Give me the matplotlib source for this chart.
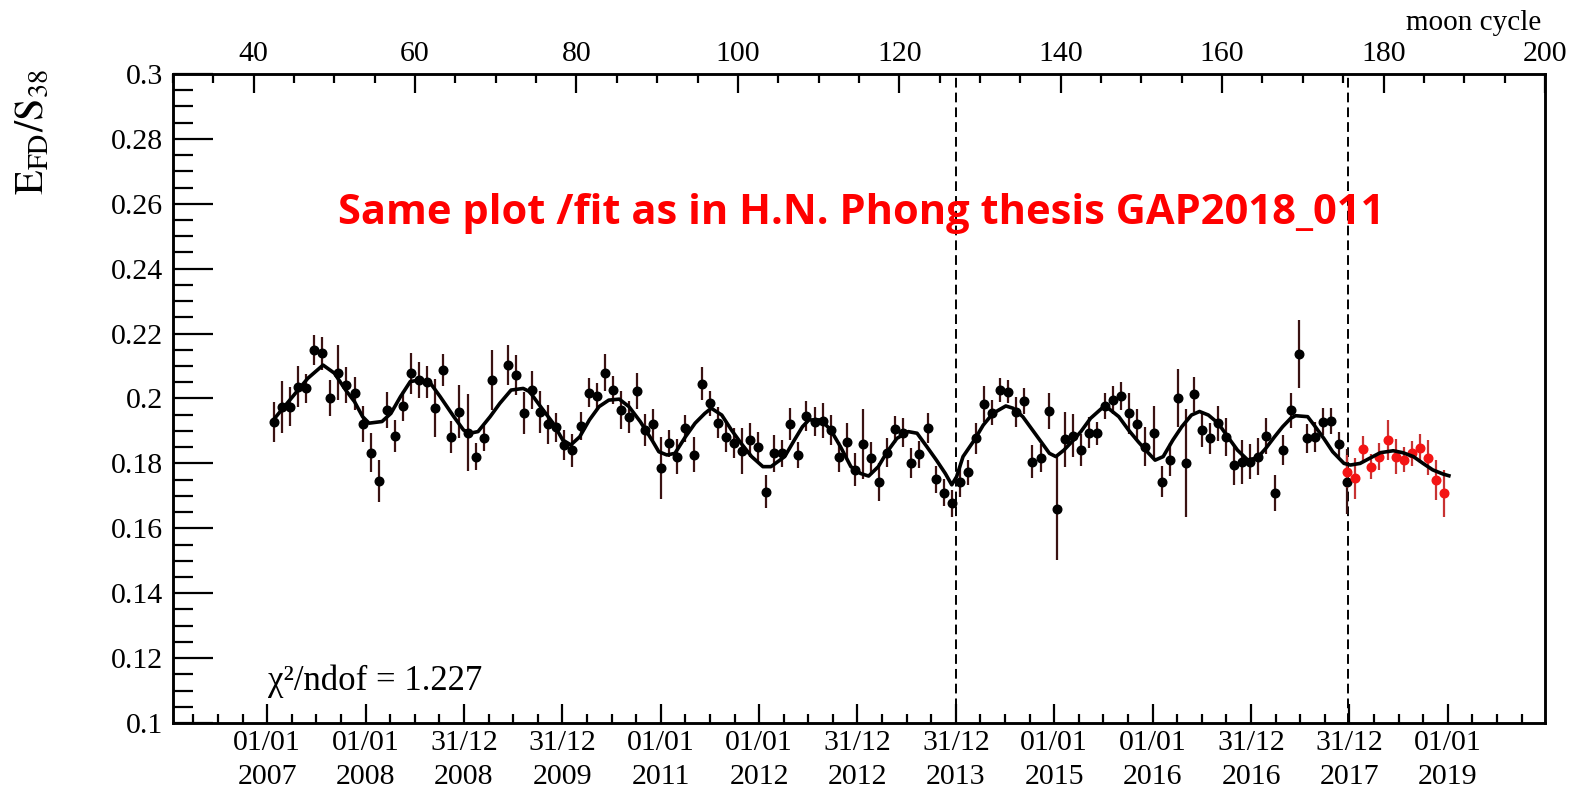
"""E_FD/S38 versus moon cycle, with annual-modulation fit."""

import matplotlib
matplotlib.use("Agg")
import matplotlib.pyplot as plt
import numpy as np
from matplotlib.ticker import FixedLocator, MultipleLocator, FuncFormatter

# --- data ------------------------------------------------------------------
# black points: moon cycles 42.5 ... 175.5 (cycle 70.5 has no point)
black_cycle = [c for c in np.arange(42.5, 176.0, 1.0) if c != 70.5]
black_val = [
    0.1928, 0.1973, 0.1975, 0.2036, 0.2031, 0.2149, 0.2139, 0.2001, 0.2080, 0.2042,
    0.2016, 0.1921, 0.1833, 0.1746, 0.1965, 0.1885, 0.1977, 0.2078, 0.2057, 0.2052,
    0.1970, 0.2088, 0.1882, 0.1959, 0.1895, 0.1821, 0.1877, 0.2057,
    0.2103, 0.2072, 0.1956, 0.2026, 0.1959, 0.1920, 0.1911, 0.1857, 0.1841, 0.1915,
    0.2018, 0.2008, 0.2080, 0.2026, 0.1965, 0.1944, 0.2024, 0.1903, 0.1920, 0.1785,
    0.1862, 0.1821, 0.1908, 0.1826, 0.2045, 0.1985, 0.1926, 0.1882, 0.1862, 0.1838,
    0.1872, 0.1849, 0.1713, 0.1831, 0.1831, 0.1921, 0.1826, 0.1947, 0.1929, 0.1932,
    0.1903, 0.1821, 0.1867, 0.1780, 0.1860, 0.1816, 0.1742, 0.1833, 0.1905, 0.1895,
    0.1800, 0.1828, 0.1908, 0.1751, 0.1710, 0.1677, 0.1744, 0.1772, 0.1877, 0.1983,
    0.1956, 0.2026, 0.2021, 0.1959, 0.1992, 0.1805, 0.1816, 0.1961, 0.1660, 0.1874,
    0.1885, 0.1841, 0.1895, 0.1893, 0.1977, 0.1995, 0.2008, 0.1954, 0.1920, 0.1852,
    0.1895, 0.1744, 0.1811, 0.2001, 0.1802, 0.2013, 0.1903, 0.1877, 0.1923, 0.1882,
    0.1795, 0.1805, 0.1805, 0.1821, 0.1885, 0.1708, 0.1841, 0.1964, 0.2136, 0.1877,
    0.1882, 0.1929, 0.1931, 0.1859, 0.1744,
]
black_err = [
    0.0062, 0.0080, 0.0060, 0.0063, 0.0046, 0.0046, 0.0050, 0.0056, 0.0085, 0.0056,
    0.0050, 0.0056, 0.0060, 0.0064, 0.0056, 0.0050, 0.0046, 0.0063, 0.0056, 0.0049,
    0.0090, 0.0050, 0.0050, 0.0082, 0.0118, 0.0041, 0.0039, 0.0092,
    0.0062, 0.0062, 0.0064, 0.0059, 0.0064, 0.0059, 0.0044, 0.0046, 0.0051, 0.0044,
    0.0044, 0.0039, 0.0056, 0.0044, 0.0059, 0.0049, 0.0055, 0.0049, 0.0049, 0.0095,
    0.0041, 0.0054, 0.0041, 0.0054, 0.0051, 0.0039, 0.0049, 0.0046, 0.0046, 0.0072,
    0.0051, 0.0049, 0.0051, 0.0056, 0.0041, 0.0049, 0.0039, 0.0046, 0.0045, 0.0054,
    0.0046, 0.0046, 0.0056, 0.0051, 0.0108, 0.0051, 0.0059, 0.0044, 0.0041, 0.0046,
    0.0046, 0.0041, 0.0046, 0.0041, 0.0041, 0.0041, 0.0049, 0.0039, 0.0049, 0.0056,
    0.0039, 0.0036, 0.0036, 0.0046, 0.0039, 0.0051, 0.0044, 0.0056, 0.0159, 0.0085,
    0.0066, 0.0049, 0.0049, 0.0036, 0.0039, 0.0044, 0.0042, 0.0064, 0.0049, 0.0059,
    0.0082, 0.0049, 0.0051, 0.0090, 0.0167, 0.0054, 0.0054, 0.0049, 0.0054, 0.0059,
    0.0062, 0.0067, 0.0054, 0.0056, 0.0056, 0.0056, 0.0046, 0.0054, 0.0105, 0.0044,
    0.0046, 0.0041, 0.0041, 0.0039, 0.0100,
]

# red points: new data after the second period boundary
red_cycle = list(np.arange(175.5, 188.0, 1.0))
red_val = [0.1775, 0.1754, 0.1843, 0.1790, 0.1821, 0.1872, 0.1821, 0.1811, 0.1831,
           0.1846, 0.1818, 0.1749, 0.1708]
red_err = [0.0050, 0.0064, 0.0041, 0.0039, 0.0041, 0.0062, 0.0054, 0.0039, 0.0039,
           0.0046, 0.0054, 0.0062, 0.0072]

# fit curve, read at knots along the drawn line
fit_cycle = [
    42.6, 45.5, 46.7, 48.6, 50.0, 51.4, 52.5, 53.5, 54.3, 55.9, 57.0, 58.2, 59.4, 60.5,
    61.9, 63.1, 64.8, 66.0, 66.8, 67.8, 69.3, 70.5, 71.9, 73.4, 74.2, 75.4, 77.1, 78.3,
    79.3, 80.4, 81.6, 82.8, 84.0, 85.3, 86.5, 87.9, 89.4, 90.2, 91.2, 92.2, 93.5, 94.7,
    95.9, 96.7, 98.0, 99.2, 100.4, 101.7, 103.1, 104.1, 105.8, 107.0, 108.0, 108.8,
    110.3, 111.5, 112.7, 114.0, 115.2, 116.2, 117.4, 118.5, 119.7, 121.1, 122.2, 123.4,
    124.6, 125.7, 126.5, 127.1, 127.9, 129.3, 130.4, 131.6, 133.2, 134.1, 135.3, 136.5,
    137.7, 138.6, 139.4, 140.4, 141.4, 142.5, 143.7, 145.1, 145.9, 147.2, 148.4, 149.6,
    150.9, 151.7, 152.7, 153.9, 155.0, 156.2, 157.2, 158.3, 159.5, 160.7, 161.9, 163.2,
    164.4, 165.4, 166.5, 167.5, 168.5, 169.1, 170.6, 171.4, 172.6, 173.7, 175.1, 175.9,
    177.1, 178.3, 179.6, 181.2, 182.4, 183.7, 184.9, 186.1, 187.4, 188.1,
]
fit_val = [
    0.1939, 0.2026, 0.2062, 0.2103, 0.2078, 0.2026, 0.1990, 0.1944, 0.1924, 0.1929,
    0.1954, 0.2006, 0.2052, 0.2057, 0.2047, 0.2006, 0.1944, 0.1903, 0.1893, 0.1898,
    0.1944, 0.1985, 0.2026, 0.2031, 0.2021, 0.1980, 0.1924, 0.1872, 0.1857, 0.1882,
    0.1934, 0.1975, 0.1995, 0.1998, 0.1975, 0.1929, 0.1870, 0.1836, 0.1826, 0.1831,
    0.1882, 0.1924, 0.1954, 0.1970, 0.1949, 0.1903, 0.1862, 0.1821, 0.1790, 0.1790,
    0.1821, 0.1872, 0.1913, 0.1934, 0.1934, 0.1903, 0.1852, 0.1790, 0.1769, 0.1761,
    0.1790, 0.1836, 0.1877, 0.1898, 0.1893, 0.1852, 0.1810, 0.1769, 0.1734, 0.1759,
    0.1821, 0.1872, 0.1918, 0.1954, 0.1977, 0.1970, 0.1944, 0.1903, 0.1862, 0.1831,
    0.1821, 0.1841, 0.1867, 0.1898, 0.1939, 0.1970, 0.1970, 0.1944, 0.1903, 0.1867,
    0.1831, 0.1810, 0.1821, 0.1872, 0.1913, 0.1949, 0.1960, 0.1949, 0.1924, 0.1882,
    0.1841, 0.1810, 0.1818, 0.1846, 0.1882, 0.1913, 0.1939, 0.1947, 0.1944, 0.1918,
    0.1877, 0.1836, 0.1800, 0.1795, 0.1800, 0.1816, 0.1833, 0.1839, 0.1833, 0.1821,
    0.1800, 0.1780, 0.1767, 0.1762,
]

period_edges = [127.0, 175.6]  # dashed lines
date_labels = ["01/01\n2007", "01/01\n2008", "31/12\n2008", "31/12\n2009",
               "01/01\n2011", "01/01\n2012", "31/12\n2012", "31/12\n2013",
               "01/01\n2015", "01/01\n2016", "31/12\n2016", "31/12\n2017",
               "01/01\n2019"]
chi2_text = "χ²/ndof = 1.227"
note_text = "Same plot /fit as in H.N. Phong thesis GAP2018_011"

# --- layout -------------------------------------------------------------
FIRST_DATE = 41.68  # moon cycle of the first date tick
YEAR_STEP = 12.19   # moon cycles between date ticks
XMIN, XMAX = 30, 200
SERIF = "Liberation Serif"
TICK_FS = 21.5

plt.rcParams["font.family"] = SERIF
plt.rcParams["mathtext.fontset"] = "stix"

fig = plt.figure(figsize=(15.71, 7.87), dpi=100)
ax = fig.add_axes([0.1101, 0.0813, 0.8733, 0.8247])

ax.errorbar(black_cycle, black_val, yerr=black_err, fmt="o", color="black",
            ecolor="#3a1212", elinewidth=1.6, markersize=6.2, capsize=0, zorder=3)
ax.errorbar(red_cycle, red_val, yerr=red_err, fmt="o", color="#f41414",
            ecolor="#c83232", elinewidth=1.6, markersize=6.2, capsize=0, zorder=3)
ax.plot(fit_cycle, fit_val, color="black", lw=2.6, zorder=4)
for xe in period_edges:
    ax.axvline(xe, color="black", lw=1.4, ls=(0, (5, 2.6)), zorder=2)

ax.set_xlim(XMIN, XMAX)
ax.set_ylim(0.1, 0.3)

# bottom: date axis
major_pos = [FIRST_DATE + k * YEAR_STEP for k in range(len(date_labels))]
minor_pos = [FIRST_DATE + k * YEAR_STEP / 4 for k in range(-4, 4 * len(date_labels) + 4)]
minor_pos = [p for p in minor_pos if XMIN < p < XMAX]
ax.xaxis.set_major_locator(FixedLocator(major_pos))
ax.set_xticklabels(date_labels, linespacing=1.4)
ax.xaxis.set_minor_locator(FixedLocator(minor_pos))

# left: value axis
ax.yaxis.set_major_locator(MultipleLocator(0.02))
ax.yaxis.set_minor_locator(MultipleLocator(0.005))
ax.yaxis.set_major_formatter(FuncFormatter(lambda v, _: f"{round(v, 3):g}"))

ax.tick_params(axis="y", which="major", direction="in", length=29, width=1.6,
               labelsize=TICK_FS, pad=7, right=False)
ax.tick_params(axis="y", which="minor", direction="in", length=14.5, width=1.6, right=False)
ax.tick_params(axis="x", which="major", direction="in", length=14, width=1.6,
               labelsize=TICK_FS, pad=5, top=False)
ax.tick_params(axis="x", which="minor", direction="in", length=6.5, width=1.6, top=False)
for sp in ax.spines.values():
    sp.set_linewidth(1.8)

# top: moon cycle axis
top = ax.twiny()
top.set_xlim(XMIN, XMAX)
top.xaxis.set_major_locator(MultipleLocator(20))
top.xaxis.set_minor_locator(MultipleLocator(5))
top.tick_params(axis="x", which="major", direction="in", length=14, width=1.6,
                labelsize=TICK_FS, pad=5)
top.tick_params(axis="x", which="minor", direction="in", length=6.5, width=1.6)
for sp in top.spines.values():
    sp.set_linewidth(1.8)

fig.text(0.981, 0.962, "moon cycle", ha="right", va="baseline", fontsize=21)
fig.text(0.021, 0.832, r"$\mathrm{E}_{\mathrm{FD}}/\mathrm{S}_{38}$", rotation=90,
         ha="center", va="center", fontsize=29)
fig.text(268 / 1571, 1 - 690 / 787, chi2_text, ha="left", va="baseline", fontsize=25)
fig.text(0.548, 1 - 213 / 787, note_text, ha="center", va="center", color="#ff0000",
         fontsize=30, fontweight="bold", family=["Open Sans", "DejaVu Sans"])

fig.savefig("out.png", dpi=100)
